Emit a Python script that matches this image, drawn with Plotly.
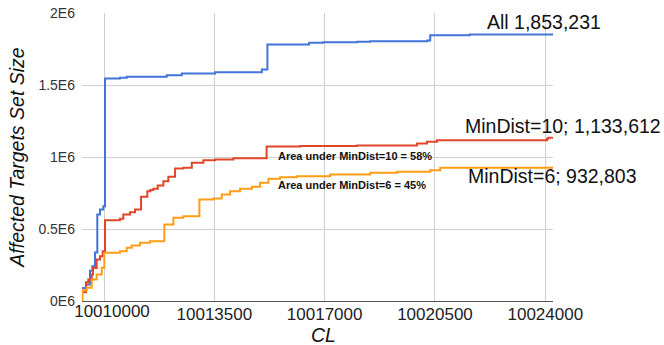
import plotly.graph_objects as go

# Step series: CL position vs. cumulative affected-targets set size
all_cl = [10009302, 10009429, 10009556, 10009629, 10009714, 10009787, 10009873, 10009978,
          10010032, 10010508, 10010721, 10011990, 10012467, 10013524, 10015006, 10015184,
          10016508, 10016952, 10018032, 10018444, 10020254, 10020349, 10021600, 10024244]
all_size = [91000, 115000, 210000, 242000, 337000, 600000, 635000, 658000,
            1545000, 1550000, 1557000, 1568000, 1580000, 1589000, 1608000, 1781000,
            1793000, 1797000, 1800000, 1804000, 1809000, 1846000, 1850000, 1853231]

md10_cl = [10009302, 10009429, 10009502, 10009610, 10009651, 10009768, 10009873, 10009959,
           10010032, 10010508, 10010613, 10010825, 10010984, 10011175, 10011375, 10011470,
           10011565, 10011705, 10011883, 10012041, 10012254, 10012517, 10012784, 10013152,
           10013524, 10014105, 10015159, 10016222, 10018022, 10019927, 10020244, 10020562,
           10024053, 10024095, 10024244]
md10_size = [61000, 130000, 149000, 184000, 230000, 288000, 311000, 346000,
             561000, 571000, 601000, 617000, 635000, 724000, 762000, 770000,
             779000, 802000, 832000, 862000, 920000, 925000, 960000, 978000,
             983000, 992000, 1073000, 1076000, 1080000, 1094000, 1106000, 1117000,
             1126000, 1133612, 1133612]

md6_cl = [10009302, 10009320, 10009451, 10009610, 10009768, 10009927, 10010010, 10010508,
          10010721, 10010879, 10011143, 10011460, 10011914, 10012200, 10012517, 10013025,
          10013470, 10013736, 10014000, 10014317, 10014689, 10014952, 10015216, 10015587,
          10016117, 10017175, 10018444, 10019292, 10020349, 10020667, 10024244]
md6_size = [0, 75000, 92000, 149000, 184000, 231000, 335000, 346000,
            369000, 385000, 404000, 415000, 531000, 578000, 589000, 705000,
            712000, 740000, 762000, 779000, 793000, 821000, 849000, 860000,
            867000, 878000, 890000, 897000, 908000, 925000, 932803]

x_ticks = [10010000, 10013500, 10017000, 10020500, 10024000]
x_tick_text = [str(v) for v in x_ticks]
y_ticks = [0, 500000, 1000000, 1500000, 2000000]
y_tick_text = ["0E6", "0.5E6", "1E6", "1.5E6", "2E6"]

series = [
    ("All", all_cl, all_size, "#4274d9"),
    ("MinDist=10", md10_cl, md10_size, "#e0472a"),
    ("MinDist=6", md6_cl, md6_size, "#ff9d14"),
]

x_range = [10009302, 10024244]

fig = go.Figure()
for name, xs, ys, color in series:
    fig.add_trace(go.Scatter(x=xs, y=ys, mode="lines", name=name,
                             line=dict(color=color, width=2, shape="hv")))

label_font = dict(family="Liberation Sans, Arial, sans-serif", color="#111")
annotations = [
    dict(x=10022096, y=1941000, text="All 1,853,231", size=19.5, bold=False),
    dict(x=10021397, y=1212000, text="MinDist=10; 1,133,612", size=19.5, bold=False),
    dict(x=10021493, y=871000, text="MinDist=6; 932,803", size=19.5, bold=False),
    dict(x=10015461, y=1010000, text="Area under MinDist=10 = 58%", size=11, bold=True),
    dict(x=10015461, y=804000, text="Area under MinDist=6 = 45%", size=11, bold=True),
]
for a in annotations:
    fig.add_annotation(x=a["x"], y=a["y"], xref="x", yref="y", text=a["text"],
                       showarrow=False, xanchor="left", yanchor="middle",
                       font=dict(size=a["size"], weight="bold" if a["bold"] else "normal",
                                 **label_font))

# x-axis title placed below the tick labels
fig.add_annotation(x=0.513, y=-0.117, xref="paper", yref="paper", text="<i>CL</i>",
                   showarrow=False, xanchor="center", yanchor="middle",
                   font=dict(size=19.5, **label_font))

# main x axis carries gridlines and all but the first label;
# the first label sits on an overlay axis, nudged inside the plot edge
fig.update_layout(
    width=664, height=345,
    margin=dict(l=82, r=111, t=13, b=44),
    paper_bgcolor="white", plot_bgcolor="white",
    showlegend=False,
    font=dict(family="Liberation Sans, Arial, sans-serif", color="#333"),
    xaxis=dict(range=x_range, tickvals=x_ticks, ticktext=[""] + x_tick_text[1:],
               showgrid=True, gridcolor="#d0d0d0", gridwidth=1,
               showline=True, linecolor="#555", linewidth=1, automargin=False,
               zeroline=False, ticks="", ticklabelstandoff=-2,
               tickfont=dict(size=17, color="#222")),
    xaxis2=dict(range=x_range, overlaying="x", anchor="y", side="bottom",
                tickvals=x_ticks[:1], ticktext=x_tick_text[:1], ticklabelshift=8,
                ticklabelstandoff=-2,
                showgrid=False, zeroline=False, showline=False, ticks="", automargin=False,
                tickfont=dict(size=17, color="#222")),
    yaxis=dict(range=[0, 2000000], tickvals=y_ticks, ticktext=y_tick_text,
               showgrid=True, gridcolor="#d0d0d0", gridwidth=1, automargin=False,
               zeroline=False, showline=False, ticks="", ticklabelstandoff=6,
               tickfont=dict(size=14, color="#333"),
               title=dict(text="<i>Affected Targets Set Size</i>",
                          font=dict(size=19.5, color="#111"), standoff=8)),
)
fig.add_trace(go.Scatter(x=[], y=[], xaxis="x2", yaxis="y", showlegend=False,
                         hoverinfo="skip"))

fig.write_html("out.html")
